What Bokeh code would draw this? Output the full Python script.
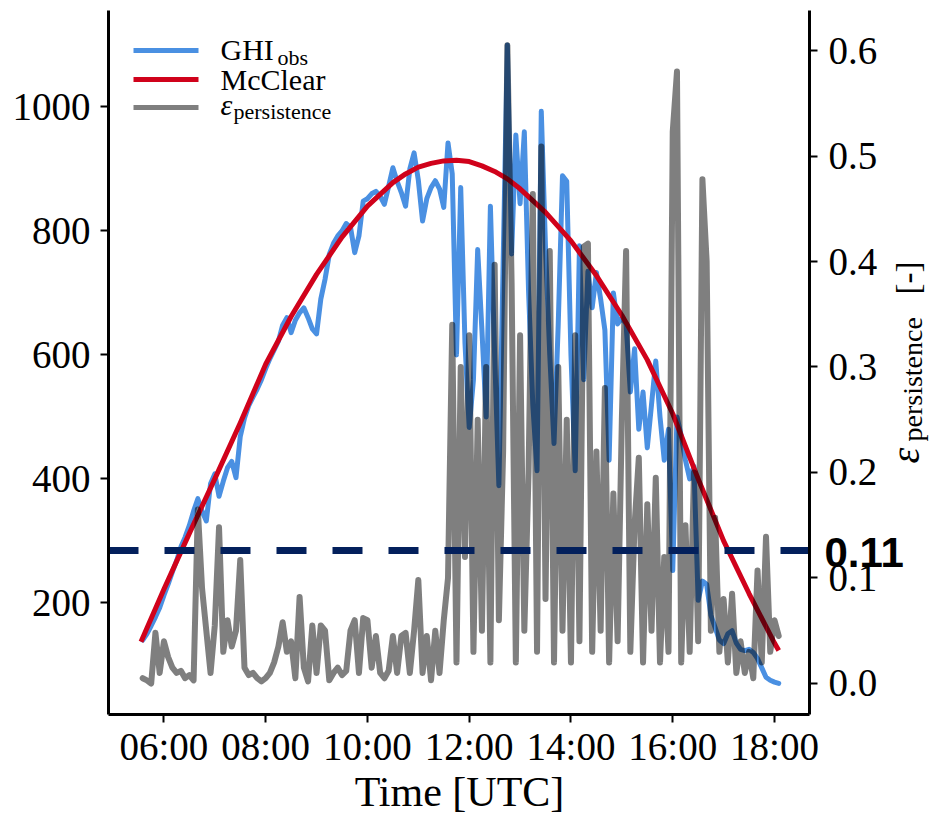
from bokeh.plotting import figure
from bokeh.models import Range1d, LinearAxis, FixedTicker, Label, BoxAnnotation, ColumnDataSource
from bokeh.embed import file_html
from bokeh.resources import INLINE
import math

# ---------------- data ----------------
obs_start = "05:35"          # first sample of the 5-minute series
obs_step_min = 5

ghi_obs = [
    140, 150, 163, 177, 192, 212, 230, 250, 268, 290, 306, 325,
    348, 368, 348, 332, 392, 408, 372, 396, 418, 428, 402, 468,
    498, 518, 532, 545, 560, 578, 594, 608, 622, 648, 660, 636,
    656, 668, 676, 660, 642, 634, 690, 722, 762, 780, 792, 800,
    812, 806, 765, 792, 848, 852, 860, 864, 856, 843, 872, 902,
    880, 862, 840, 900, 926, 882, 816, 852, 870, 881, 868, 838,
    942, 892, 600, 870, 620, 483, 560, 770, 640, 500, 840, 600,
    389, 747, 1100, 763, 955, 844, 960, 703, 520, 413, 993, 773,
    600, 457, 650, 889, 880, 600, 413, 776, 560, 735, 676, 733,
    690, 640, 430, 700, 650, 660, 650, 540, 610, 480, 540, 450,
    520, 590, 500, 430, 480, 252, 500, 470, 430, 400, 420, 204,
    235, 230, 180, 160, 140, 134, 150, 155, 135, 125, 123, 125,
    120, 110, 95, 80, 75, 72, 70,
]

eps_persistence = [
    0.005, 0.003, 0.0, 0.048, 0.01, 0.04, 0.025, 0.015, 0.01, 0.012, 0.005, 0.008,
    0.003, 0.165, 0.09, 0.05, 0.01, 0.055, 0.148, 0.03, 0.06, 0.035, 0.05, 0.117,
    0.015, 0.008, 0.01, 0.005, 0.002, 0.005, 0.01, 0.02, 0.035, 0.058, 0.03, 0.04,
    0.005, 0.082, 0.015, 0.002, 0.055, 0.01, 0.055, 0.05, 0.003, 0.01, 0.015, 0.008,
    0.012, 0.05, 0.06, 0.01, 0.062, 0.06, 0.015, 0.045, 0.01, 0.005, 0.012, 0.045,
    0.01, 0.045, 0.048, 0.01, 0.05, 0.098, 0.01, 0.045, 0.003, 0.05, 0.01, 0.06,
    0.10, 0.34, 0.02, 0.30, 0.12, 0.33, 0.03, 0.25, 0.05, 0.30, 0.02, 0.397,
    0.06, 0.22, 0.605, 0.38, 0.02, 0.33, 0.05, 0.20, 0.464, 0.03, 0.509, 0.08,
    0.41, 0.02, 0.30, 0.05, 0.25, 0.02, 0.33, 0.04, 0.414, 0.417, 0.03, 0.22,
    0.05, 0.28, 0.02, 0.18, 0.04, 0.25, 0.41, 0.03, 0.15, 0.214, 0.02, 0.17,
    0.05, 0.195, 0.02, 0.12, 0.03, 0.523, 0.58, 0.02, 0.15, 0.03, 0.20, 0.04,
    0.478, 0.40, 0.05, 0.157, 0.03, 0.08, 0.02, 0.085, 0.01, 0.04, 0.01, 0.03,
    0.005, 0.107, 0.02, 0.139, 0.03, 0.06, 0.045,
]

mcclear_times = ["05:33", "06:00", "06:30", "07:00", "07:30", "08:00", "08:30",
                 "09:00", "09:30", "10:00", "10:30", "10:45", "11:00", "11:15",
                 "11:30", "11:45", "12:00", "12:15", "12:30", "12:45", "13:00",
                 "13:30", "14:00", "14:30", "15:00", "15:30", "16:00", "16:30",
                 "17:00", "17:30", "18:00", "18:05"]
mcclear = [137, 222, 312, 400, 490, 585, 662, 730, 790, 840, 878, 892, 903, 909,
           913, 914, 912, 905, 896, 884, 868, 830, 784, 728, 664, 592, 505, 400,
           300, 215, 135, 123]

threshold_text = "0.11"
threshold_line_level = 0.126   # where the dashed line sits on the right axis

x_ticks = ["06:00", "08:00", "10:00", "12:00", "14:00", "16:00", "18:00"]
ghi_ticks = [200, 400, 600, 800, 1000]
eps_ticks = ["0.0", "0.1", "0.2", "0.3", "0.4", "0.5", "0.6"]

# axis limits of the plotting box
x_lim = (4.911, 18.688)
ghi_lim = (19.8, 1156.5)
eps_lim = (-0.0294, 0.6384)


def hours(s):
    h, m = s.split(":")
    return int(h) + int(m) / 60.0


t0 = hours(obs_start)
obs_t = [t0 + i * obs_step_min / 60.0 for i in range(len(ghi_obs))]
mc_t = [hours(s) for s in mcclear_times]

# ---------------- geometry ----------------
W, H = 933, 818
BOX_L, BOX_R, BOX_T, BOX_B = 108.0, 809.0, 9.5, 714.0   # plotting box, canvas px


def extend(lim, box_lo, box_hi, total):
    """Range covering the whole canvas such that lim maps onto the box."""
    per_px = (lim[1] - lim[0]) / (box_hi - box_lo)
    return Range1d(lim[0] - box_lo * per_px, lim[1] + (total - box_hi) * per_px)


# y measured from the bottom of the canvas
x_rng = extend(x_lim, BOX_L, BOX_R, W)
ghi_rng = extend(ghi_lim, H - BOX_B, H - BOX_T, H)
eps_rng = extend(eps_lim, H - BOX_B, H - BOX_T, H)

p = figure(width=W, height=H, output_backend="svg", toolbar_location=None,
           title=None, x_range=x_rng, y_range=ghi_rng,
           min_border=0, min_border_left=0, min_border_right=0,
           min_border_top=0, min_border_bottom=0)
p.outline_line_color = None
p.xgrid.visible = False
p.ygrid.visible = False
p.background_fill_color = "white"
p.border_fill_color = "white"
p.extra_y_ranges = {"eps": eps_rng}

SERIF = "Liberation Serif"


def style_axis(ax):
    ax.axis_line_width = 3
    ax.axis_line_color = "black"
    ax.major_tick_line_width = 2
    ax.major_tick_line_color = "black"
    ax.major_tick_in = 0
    ax.major_tick_out = 8
    ax.minor_tick_line_color = None
    ax.major_label_text_font = SERIF
    ax.major_label_text_font_size = "39px"
    ax.major_label_text_color = "black"
    ax.major_label_standoff = 10


xa = p.xaxis[0]
style_axis(xa)
xa.ticker = FixedTicker(ticks=[hours(s) for s in x_ticks])
xa.major_label_overrides = {hours(s): s for s in x_ticks}
xa.major_label_standoff = 2
xa.fixed_location = ghi_lim[0]
xa.bounds = x_lim

ya = p.yaxis[0]
style_axis(ya)
ya.ticker = FixedTicker(ticks=ghi_ticks)
ya.fixed_location = x_lim[0]
ya.bounds = ghi_lim

ra = LinearAxis(y_range_name="eps")
style_axis(ra)
ra.ticker = FixedTicker(ticks=[float(s) for s in eps_ticks])
ra.major_label_overrides = {float(s): s for s in eps_ticks}
ra.major_label_standoff = 11
ra.fixed_location = x_lim[1]
ra.bounds = eps_lim
p.add_layout(ra, "right")

# ---------------- series ----------------
BLUE = "#4A90E2"
RED = "#D0021B"
NAVY = "#03205C"

src_obs = ColumnDataSource(dict(t=obs_t, ghi=ghi_obs, eps=eps_persistence))
src_mc = ColumnDataSource(dict(t=mc_t, ghi=mcclear))

p.line("t", "ghi", source=src_obs, line_color=BLUE, line_width=5,
       line_join="round", line_cap="round")
p.line("t", "ghi", source=src_mc, line_color=RED, line_width=5,
       line_join="round", line_cap="butt")
p.line("t", "eps", source=src_obs, y_range_name="eps", line_color="black",
       line_alpha=0.5, line_width=6, line_join="round", line_cap="round")

p.line([x_lim[0], x_lim[1]], [threshold_line_level, threshold_line_level],
       y_range_name="eps", line_color=NAVY, line_width=7, line_dash="30 26",
       line_cap="butt")

# ---------------- annotations (screen units; frame == canvas) -------------
BASE_SHIFT = 0.36   # em offset between Bokeh's anchor and the drawn baseline


def add_text(txt, px, py, size, font=SERIF, style="normal", align="left",
             angle=0.0):
    d = BASE_SHIFT * size
    if angle:
        px = px - d
    else:
        py = py - d
    p.add_layout(Label(x=px, y=H - py, x_units="screen", y_units="screen",
                       text=txt, text_font=font, text_font_size=f"{size}px",
                       text_font_style=style, text_color="black",
                       text_align=align, text_baseline="alphabetic",
                       angle=angle))


# threshold label
add_text(threshold_text, 824, 567, 42, font="Liberation Sans", style="bold")

# x axis title
add_text("Time [UTC]", 459, 807, 42, align="center")

# right axis title (rotated, reading bottom to top)
rot = math.pi / 2
add_text("ε", 919, 463, 40, style="italic", angle=rot)
add_text("persistence", 922, 441, 28, angle=rot)
add_text("[-]", 919, 294, 33, angle=rot)

# legend (hand-built so that subscripts can be shown)
legend_rows = [
    (50, BLUE, 1.0, [("GHI", 220, 60, 30, "normal"), ("obs", 277, 65, 22, "normal")]),
    (79, RED, 1.0, [("McClear", 220, 90, 30, "normal")]),
    (107, "black", 0.5, [("ε", 220, 115, 30, "italic"), ("persistence", 233, 119, 22, "normal")]),
]
for yc, col, alpha, texts in legend_rows:
    p.add_layout(BoxAnnotation(left=133, right=198, bottom=H - (yc + 2.5),
                               top=H - (yc - 2.5), left_units="screen",
                               right_units="screen", top_units="screen",
                               bottom_units="screen", fill_color=col,
                               fill_alpha=alpha, line_color=None))
    for txt, px, py, fs, style in texts:
        add_text(txt, px, py, fs, style=style)

open("out.html", "w").write(file_html(p, INLINE))
